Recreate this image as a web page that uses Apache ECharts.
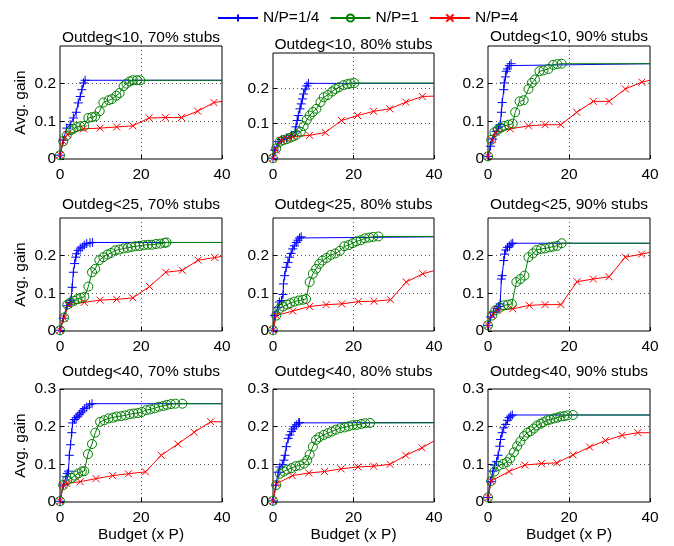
<!DOCTYPE html>
<html><head><meta charset="utf-8">
<script src="https://cdn.jsdelivr.net/npm/echarts@6/dist/echarts.min.js"></script>
<style>html,body{margin:0;padding:0;background:#fff}#c{width:674px;height:546px}</style>
</head><body><div id="c"></div>
<script>
// ---------- DATA ----------
const seriesNames = ['N/P=1/4', 'N/P=1', 'N/P=4'];
const xTicks = [0, 20, 40];
const yTicks = [0, 0.1, 0.2, 0.3];
const panelTitles = [
  'Outdeg<10, 70% stubs', 'Outdeg<10, 80% stubs', 'Outdeg<10, 90% stubs',
  'Outdeg<25, 70% stubs', 'Outdeg<25, 80% stubs', 'Outdeg<25, 90% stubs',
  'Outdeg<40, 70% stubs', 'Outdeg<40, 80% stubs', 'Outdeg<40, 90% stubs'
];
const yAxisTitle = 'Avg. gain';
const xAxisTitle = 'Budget (x P)';

// N/P=1/4 (blue)
const blue1 = [[0,0.01],[0.8,0.05],[1.65,0.082],[2.5,0.091],[3.3,0.109],[4,0.124],[4.5,0.149],[5,0.166],[5.4,0.184],[5.8,0.202],[6.2,0.209]];
const blue2 = [[0,0.002],[0.4,0.025],[1.3,0.049],[2.1,0.055],[3.4,0.06],[4.6,0.067],[5.5,0.077],[5.7,0.091],[6,0.109],[6.3,0.123],[6.7,0.142],[7,0.156],[7.3,0.17],[7.6,0.184],[8,0.198],[8.4,0.207],[8.8,0.214]];
const blue3 = [[0,0.007],[0.6,0.034],[1.2,0.053],[2,0.073],[2.6,0.085],[3,0.091],[3.3,0.124],[3.5,0.15],[3.9,0.184],[4,0.202],[4.3,0.218],[4.5,0.233],[4.8,0.239],[5.3,0.248],[5.7,0.253]];
const blue4 = [[0,0.002],[0.8,0.034],[1.7,0.067],[2.3,0.076],[2.7,0.082],[3,0.116],[3.3,0.156],[3.6,0.179],[3.9,0.196],[4.1,0.205],[4.5,0.214],[5,0.22],[5.5,0.223],[6,0.228],[6.6,0.232],[7.4,0.234],[8,0.235]];
const blue5 = [[0,0.002],[0.4,0.041],[1.2,0.063],[1.6,0.077],[2.1,0.081],[2.5,0.097],[2.6,0.125],[2.9,0.147],[3.3,0.169],[3.7,0.182],[4.1,0.196],[4.5,0.206],[4.9,0.218],[5.3,0.226],[5.8,0.235],[6.2,0.241],[6.6,0.247],[7,0.25]];
const blue6 = [[0,0.015],[0.6,0.037],[1.4,0.05],[2.2,0.059],[2.6,0.065],[3,0.072],[3.3,0.138],[3.5,0.147],[3.9,0.187],[4.1,0.204],[4.4,0.215],[4.8,0.222],[5.3,0.226],[5.7,0.231],[6.1,0.233]];
const blue7 = [[0,0.002],[0.8,0.045],[1.5,0.067],[1.8,0.076],[2.1,0.082],[2.3,0.124],[2.6,0.152],[2.9,0.184],[3.1,0.21],[3.6,0.219],[4,0.224],[4.4,0.228],[4.8,0.233],[5.2,0.237],[5.6,0.242],[6,0.248],[6.6,0.252],[7.3,0.258],[7.9,0.261]];
const blue8 = [[0,0.003],[0.7,0.045],[1.3,0.079],[1.7,0.093],[2.3,0.099],[2.7,0.111],[3,0.124],[3.3,0.147],[3.8,0.169],[4.2,0.178],[4.6,0.187],[5,0.194],[5.4,0.2],[5.8,0.205],[6.3,0.21],[6.6,0.211]];
const blue9 = [[0,0.012],[0.6,0.054],[1.2,0.082],[1.6,0.098],[2.1,0.107],[2.5,0.124],[2.9,0.148],[3.1,0.166],[3.5,0.184],[3.9,0.197],[4.4,0.206],[4.8,0.217],[5.2,0.224],[5.6,0.228],[6,0.231]];

// N/P=1 (green)
const green1 = [[0,0.01],[0.8,0.047],[1.65,0.062],[2.6,0.076],[3.3,0.08],[4.1,0.085],[5,0.087],[6,0.088],[7,0.109],[7.9,0.111],[8.7,0.113],[9.8,0.127],[10.7,0.15],[12,0.156],[12.8,0.159],[13.9,0.168],[14.7,0.175],[15.7,0.193],[16.4,0.2],[17.2,0.206],[18,0.209],[19,0.209],[19.8,0.209]];
const green2 = [[0,0.002],[0.8,0.03],[1.7,0.049],[2.5,0.053],[3.4,0.056],[4.2,0.06],[5,0.064],[5.9,0.069],[6.9,0.077],[7.6,0.093],[8.4,0.111],[9.1,0.123],[9.9,0.133],[10.8,0.142],[11.8,0.161],[12.6,0.175],[13.6,0.181],[14.7,0.191],[15.5,0.198],[16.4,0.203],[17.5,0.209],[18.5,0.212],[19.3,0.214],[20.2,0.215]];
const green3 = [[0,0.007],[0.8,0.051],[1.6,0.071],[2.4,0.078],[3.2,0.083],[4,0.088],[5.1,0.091],[6.1,0.094],[6.7,0.124],[7.8,0.153],[8.8,0.156],[10,0.186],[10.8,0.202],[11.6,0.211],[12.7,0.233],[13.7,0.235],[14.9,0.239],[16.1,0.25],[17.1,0.252],[18.2,0.253]];
const green4 = [[0,0.002],[1,0.036],[1.8,0.07],[2.6,0.076],[3.5,0.08],[4.3,0.085],[5.1,0.088],[6,0.091],[7,0.118],[7.9,0.156],[8.7,0.165],[9.7,0.188],[10.7,0.196],[11.7,0.203],[12.6,0.207],[13.6,0.214],[14.6,0.216],[15.7,0.219],[16.7,0.221],[17.6,0.223],[18.6,0.225],[19.6,0.226],[20.7,0.228],[21.7,0.229],[22.7,0.229],[23.7,0.231],[24.8,0.232],[25.8,0.234],[26.3,0.235]];
const green5 = [[0,0.002],[0.8,0.041],[1.6,0.059],[2.5,0.065],[3.5,0.07],[4.3,0.074],[5.3,0.078],[6.4,0.081],[7.4,0.083],[8.2,0.085],[9.1,0.13],[9.9,0.152],[10.7,0.165],[11.5,0.178],[12.3,0.187],[13.3,0.194],[14.4,0.202],[15.5,0.206],[16.6,0.213],[17.7,0.225],[18.8,0.228],[19.8,0.233],[20.7,0.238],[21.8,0.241],[22.8,0.246],[23.9,0.248],[24.9,0.25],[26.2,0.251]];
const green6 = [[0,0.015],[1,0.041],[1.8,0.055],[2.9,0.062],[3.9,0.068],[4.9,0.07],[5.9,0.072],[7,0.13],[8,0.138],[9,0.147],[10,0.196],[11.1,0.206],[12,0.215],[13.1,0.218],[14.1,0.219],[15.2,0.222],[16.1,0.224],[17.1,0.226],[18.2,0.233]];
const green7 = [[0,0.002],[0.8,0.045],[1.8,0.058],[2.9,0.064],[3.7,0.07],[4.5,0.076],[5.4,0.081],[6,0.082],[6.9,0.127],[7.9,0.154],[8.7,0.184],[9.9,0.213],[10.9,0.217],[12,0.222],[13.1,0.224],[14,0.227],[15.1,0.228],[16.1,0.23],[17.2,0.233],[18.2,0.235],[19.2,0.236],[20.2,0.239],[21.3,0.244],[22.3,0.246],[23.4,0.249],[24.4,0.253],[25.5,0.255],[26.4,0.258],[27.4,0.26],[28.5,0.261],[30.2,0.261]];
const green8 = [[0,0.003],[0.8,0.045],[1.7,0.075],[2.7,0.081],[3.5,0.086],[4.6,0.09],[5.6,0.095],[6.6,0.097],[7.7,0.102],[8.5,0.111],[9.1,0.126],[9.9,0.147],[10.7,0.165],[11.5,0.172],[12.6,0.178],[13.6,0.183],[14.6,0.187],[15.6,0.192],[16.7,0.196],[17.8,0.198],[18.8,0.201],[19.8,0.204],[20.8,0.205],[21.9,0.207],[22.9,0.209],[24.1,0.21]];
const green9 = [[0,0.012],[0.8,0.056],[1.6,0.081],[2.6,0.096],[3.7,0.101],[4.7,0.106],[5.5,0.116],[6.4,0.132],[7.2,0.148],[8,0.161],[8.9,0.175],[9.7,0.184],[10.5,0.188],[11.3,0.195],[12.1,0.203],[13,0.208],[13.7,0.212],[14.6,0.217],[15.4,0.219],[16.3,0.222],[17.1,0.224],[17.9,0.227],[18.8,0.228],[19.6,0.23],[21,0.231]];

// N/P=4 (red)
const red1 = [[0,0.01],[0.8,0.047],[1.8,0.065],[5.8,0.08],[9.9,0.082],[14,0.085],[18,0.088],[22,0.109],[26,0.11],[30,0.11],[34,0.127],[38,0.15]];
const red2 = [[0,0.002],[0.8,0.025],[2.1,0.053],[3.4,0.058],[4.9,0.063],[9.1,0.067],[13,0.075],[17,0.109],[21,0.123],[25,0.135],[29,0.142],[33,0.161],[37.1,0.177]];
const red3 = [[0,0.007],[1,0.051],[2,0.071],[5.5,0.08],[10,0.088],[14.1,0.091],[18,0.091],[21.9,0.124],[26,0.153],[29.9,0.153],[33.9,0.186],[38,0.204]];
const red4 = [[0,0.002],[1,0.034],[2.1,0.07],[6,0.076],[9.9,0.082],[14,0.084],[18,0.088],[22.1,0.118],[26.1,0.156],[30.2,0.161],[34.1,0.188],[38.2,0.195]];
const red5 = [[0,0.002],[0.8,0.041],[4.9,0.053],[9.1,0.065],[13.2,0.07],[17.1,0.072],[21.2,0.078],[25.1,0.079],[29.2,0.083],[33.1,0.13],[37.2,0.152]];
const red6 = [[0,0.015],[1,0.041],[2.2,0.055],[6.1,0.059],[10.2,0.068],[14.1,0.07],[18,0.07],[22,0.131],[26,0.138],[29.9,0.144],[33.9,0.196],[37.9,0.204]];
const red7 = [[0,0.002],[0.8,0.045],[1.7,0.049],[5,0.054],[8.9,0.062],[13,0.07],[16.9,0.075],[21.1,0.08],[25,0.124],[29.1,0.154],[33.1,0.185],[37.2,0.213]];
const red8 = [[0,0.003],[0.8,0.048],[4.8,0.07],[8.9,0.077],[12.8,0.081],[16.9,0.088],[21.1,0.093],[25,0.095],[29.1,0.1],[33,0.124],[37,0.144]];
const red9 = [[0,0.012],[0.8,0.056],[5.2,0.081],[9.1,0.098],[13.2,0.102],[17,0.104],[21,0.125],[25.1,0.146],[29,0.163],[33.1,0.177],[37,0.184]];
// value of each red curve at budget = 40 (line end, no marker)
const redEnd = [0.153, 0.178, 0.209, 0.198, 0.16, 0.209, 0.213, 0.162, 0.184];

const blueData = [blue1, blue2, blue3, blue4, blue5, blue6, blue7, blue8, blue9];
const greenData = [green1, green2, green3, green4, green5, green6, green7, green8, green9];
const redData = [red1, red2, red3, red4, red5, red6, red7, red8, red9];

// ---------- LAYOUT / STYLE ----------
const FONT = '"Liberation Sans", Arial, Helvetica, sans-serif';
const colLeft = [60, 273, 488];
const colWidth = [162, 161, 162];
const rowTop = [[46, 53, 46], [218, 218, 218], [389, 389, 389]];
const rowBottom = [159, 331, 502];
const titleY = [[38, 45, 37], [205, 205, 205], [372, 372, 372]];
const COLORS = ['#0000ff', '#008000', '#ff0000'];
const SYMBOLS = ['path://M5,0L5,10M0,5L10,5', 'circle', 'path://M0,0L10,10M10,0L0,10'];
const SYMSIZE = [9, 9, 7];
const xMax = xTicks[xTicks.length - 1];

const grids = [], xAxes = [], yAxes = [], series = [], graphics = [];
for (let i = 0; i < 9; i++) {
  const r = Math.floor(i / 3), c = i % 3;
  const top = rowTop[r][c];
  grids.push({left: colLeft[c], width: colWidth[c], top: top, height: rowBottom[r] - top,
    show: true, borderColor: '#000', borderWidth: 1, containLabel: false});
  xAxes.push({gridIndex: i, type: 'value', min: xTicks[0], max: xMax, interval: xTicks[1] - xTicks[0],
    axisLine: {show: false},
    axisTick: {show: true, inside: true, length: 4, lineStyle: {color: '#000'}},
    axisLabel: {color: '#000', fontSize: 15.5, fontFamily: FONT, margin: 8},
    splitLine: {show: true, showMinLine: false, showMaxLine: false, lineStyle: {type: [1, 3], color: '#555', width: 1}},
    name: r === 2 ? xAxisTitle : '', nameLocation: 'middle', nameGap: 25,
    nameTextStyle: {color: '#000', fontSize: 15.5, fontFamily: FONT}
  });
  yAxes.push({gridIndex: i, type: 'value', min: yTicks[0], max: yTicks[yTicks.length - 1], interval: yTicks[1] - yTicks[0],
    axisLine: {show: false},
    axisTick: {show: true, inside: true, length: 4, lineStyle: {color: '#000'}},
    axisLabel: {color: '#000', fontSize: 15.5, fontFamily: FONT, margin: 4, showMaxLabel: r === 2},
    splitLine: {show: true, showMinLine: false, showMaxLine: false, lineStyle: {type: [1, 3], color: '#555', width: 1}},
    name: c === 0 ? yAxisTitle : '', nameLocation: 'middle', nameGap: 31,
    nameTextStyle: {color: '#000', fontSize: 15.5, fontFamily: FONT}
  });
  const sets = [blueData[i], greenData[i], redData[i]];
  const ends = [blueData[i][blueData[i].length - 1][1], greenData[i][greenData[i].length - 1][1], redEnd[i]];
  for (let s = 0; s < 3; s++) {
    const data = sets[s].map(p => [p[0], p[1]]);
    data.push({value: [xMax, ends[s]], symbol: 'none'});
    series.push({
      type: 'line', name: seriesNames[s], xAxisIndex: i, yAxisIndex: i, data: data,
      symbol: SYMBOLS[s], symbolSize: SYMSIZE[s], showSymbol: true, clip: false,
      lineStyle: {color: COLORS[s], width: 1},
      itemStyle: {color: s === 1 ? 'rgba(0,0,0,0)' : COLORS[s], borderColor: COLORS[s], borderWidth: 1},
      emphasis: {disabled: true}, silent: true, animation: false
    });
  }
  graphics.push({type: 'text', x: colLeft[c] + colWidth[c] / 2, y: titleY[r][c],
    style: {text: panelTitles[i], fill: '#000', font: '15.5px ' + FONT, textAlign: 'center', textVerticalAlign: 'middle'}});
}

const chart = echarts.init(document.getElementById('c'), null, {renderer: 'canvas'});
chart.setOption({
  backgroundColor: '#fff',
  animation: false,
  legend: {data: seriesNames, top: 5, left: 212, itemWidth: 40, itemHeight: 9, itemGap: 10,
    textStyle: {color: '#000', fontSize: 15.5, fontFamily: FONT}},
  grid: grids, xAxis: xAxes, yAxis: yAxes, series: series, graphic: graphics
});
</script></body></html>
